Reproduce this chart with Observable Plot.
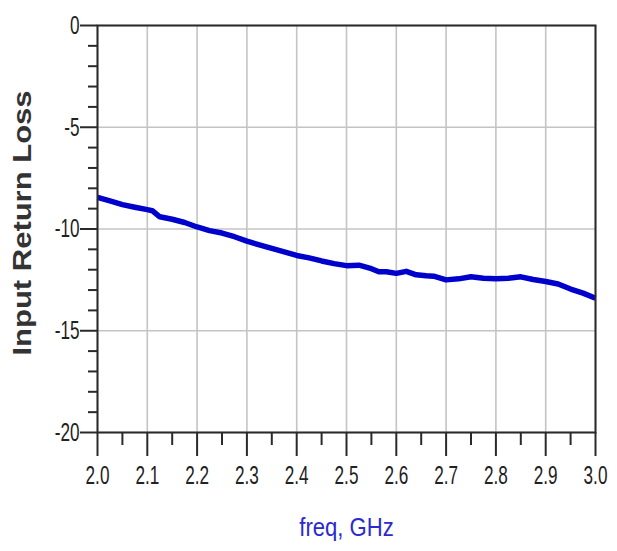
<!DOCTYPE html>
<html><head><meta charset="utf-8">
<script src="https://cdn.jsdelivr.net/npm/d3@7"></script>
<script src="https://cdn.jsdelivr.net/npm/@observablehq/plot@0.6"></script>
<style>body{margin:0;background:#fff}</style>
</head><body><div id="chart"></div>
<script>
const freq = [2.000,2.025,2.050,2.075,2.100,2.110,2.125,2.150,2.175,2.200,2.225,2.250,2.275,2.300,2.325,2.350,2.375,2.400,2.425,2.450,2.475,2.500,2.525,2.550,2.565,2.580,2.600,2.620,2.640,2.660,2.675,2.700,2.725,2.750,2.775,2.800,2.825,2.850,2.875,2.900,2.925,2.950,2.975,3.000];
const loss = [-8.45,-8.62,-8.80,-8.93,-9.05,-9.10,-9.40,-9.52,-9.68,-9.90,-10.08,-10.20,-10.38,-10.60,-10.78,-10.95,-11.12,-11.30,-11.42,-11.57,-11.70,-11.80,-11.78,-11.95,-12.10,-12.10,-12.18,-12.08,-12.25,-12.30,-12.32,-12.50,-12.45,-12.35,-12.42,-12.45,-12.42,-12.35,-12.48,-12.58,-12.70,-12.95,-13.15,-13.40];
const xMajor = [2.0,2.1,2.2,2.3,2.4,2.5,2.6,2.7,2.8,2.9,3.0];
const xMinor = [2.05,2.15,2.25,2.35,2.45,2.55,2.65,2.75,2.85,2.95];
const yMajor = [0,-5,-10,-15,-20];
const yMinor = [-1,-2,-3,-4,-6,-7,-8,-9,-11,-12,-13,-14,-16,-17,-18,-19];
const xTitle = "freq, GHz";
const yTitle = "Input Return Loss";

const data = freq.map((f, i) => ({freq: f, loss: loss[i]}));

const plot = Plot.plot({
  width: 617, height: 551,
  marginLeft: 97, marginRight: 22, marginTop: 25, marginBottom: 119,
  style: {background: "#fff", overflow: "visible"},
  x: {domain: [2, 3]},
  y: {domain: [-20, 0]},
  marks: [
    Plot.gridX(xMajor, {stroke: "#c4c4c4", strokeOpacity: 1, strokeWidth: 1.6}),
    Plot.gridY(yMajor, {stroke: "#c4c4c4", strokeOpacity: 1, strokeWidth: 1.6}),
    Plot.line(data, {x: "freq", y: "loss", stroke: "#0000cc", strokeWidth: 5.5, strokeLinejoin: "round", strokeLinecap: "butt"}),
    Plot.frame({stroke: "#2a2a2a", strokeWidth: 2}),
    Plot.axisY(yMinor, {anchor: "left", tickSize: 9, tickFormat: () => "", label: null, stroke: "#2a2a2a", strokeWidth: 2}),
    Plot.axisY(yMajor, {anchor: "left", tickSize: 17, tickPadding: 1, tickFormat: d => String(d), label: null,
      stroke: "#2a2a2a", strokeWidth: 2, fill: "#222", fontSize: 26, fontFamily: "Liberation Sans, Arial, sans-serif"}),
    Plot.axisX(xMinor, {anchor: "bottom", tickSize: 13, tickFormat: () => "", label: null, stroke: "#2a2a2a", strokeWidth: 2}),
    Plot.axisX(xMajor, {anchor: "bottom", tickSize: 24, tickPadding: 9, tickFormat: d3.format(".1f"), label: null,
      stroke: "#2a2a2a", strokeWidth: 2, fill: "#222", fontSize: 26, fontFamily: "Liberation Sans, Arial, sans-serif"}),
    Plot.text([yTitle], {frameAnchor: "left", dx: -75, dy: -6, rotate: -90, textAnchor: "middle", fontSize: 31, fontWeight: "bold",
      fill: "#333", fontFamily: "Liberation Sans, Arial, sans-serif"}),
    Plot.text([xTitle], {frameAnchor: "bottom", dy: 103, textAnchor: "middle", fontSize: 26, fill: "#2a2ad0",
      fontFamily: "Liberation Sans, Arial, sans-serif"})
  ]
});
document.getElementById("chart").appendChild(plot);

const svg = d3.select(plot);
function squeezeSel(sel, sx, sy) {
  sel.each(function () {
    const t = d3.select(this);
    const tr = t.attr("transform") || "";
    const xa = t.attr("x"), ya = t.attr("y");
    let tx = 0, ty = 0;
    if (xa != null && xa !== "" && !isNaN(+xa)) { tx = +xa; t.attr("x", null); }
    if (ya != null && ya !== "" && !isNaN(+ya)) { ty = +ya; t.attr("y", null); }
    t.attr("transform", `${tr} translate(${tx},${ty}) scale(${sx},${sy})`);
  });
}
squeezeSel(svg.selectAll('g[aria-label="x-axis tick label"] text'), 0.66, 1);
squeezeSel(svg.selectAll('g[aria-label="y-axis tick label"] text'), 0.66, 1);
squeezeSel(svg.selectAll("text").filter(function () { return this.textContent === xTitle; }), 0.85, 1);
squeezeSel(svg.selectAll("text").filter(function () { return this.textContent === yTitle; }), 1, 0.85);
</script>
</body></html>
